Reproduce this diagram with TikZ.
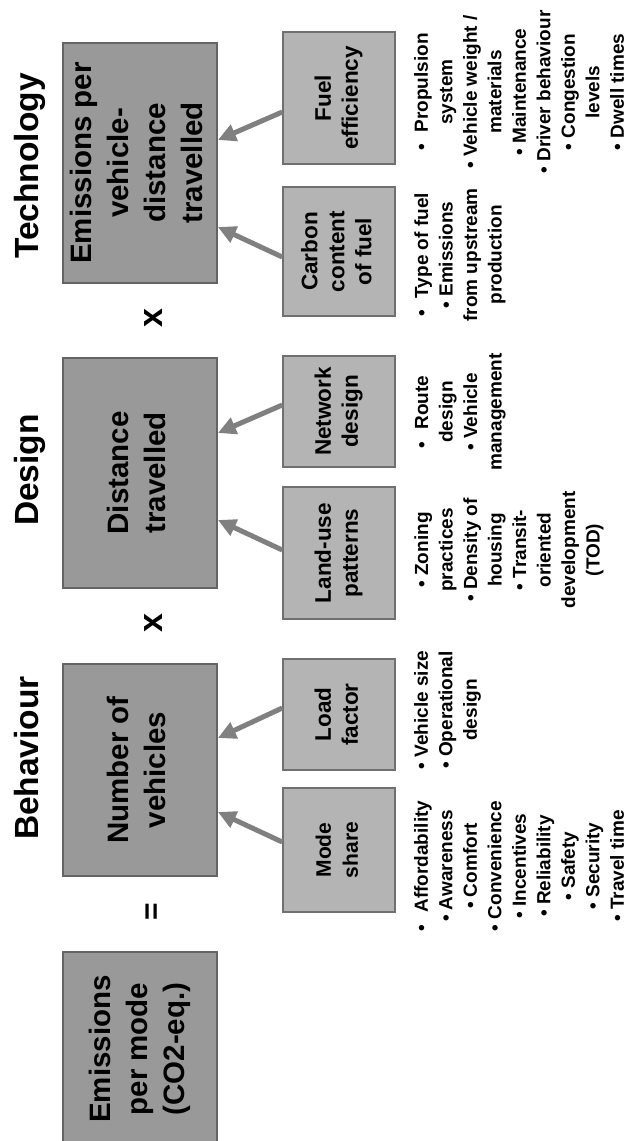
\documentclass[tikz,border=0pt]{standalone}
\usepackage{fontspec}
\usepackage{graphicx}
\setmainfont{Liberation Sans}
\usetikzlibrary{arrows.meta}
\definecolor{bigfill}{RGB}{153,153,153}
\definecolor{bigdraw}{RGB}{100,100,100}
\definecolor{smallfill}{RGB}{180,180,180}
\definecolor{smalldraw}{RGB}{112,112,112}
\definecolor{arrowgray}{RGB}{128,128,128}
\newcommand{\vtext}[1]{\rotatebox{90}{\begin{tabular}{@{}c@{}}#1\end{tabular}}}
\begin{document}
\begin{tikzpicture}[x=1pt,y=-1pt,
  bigbox/.style={draw=bigdraw, line width=1.8pt, fill=bigfill, inner sep=0pt,
    minimum width=154pt, font=\fontsize{29.5}{37}\selectfont\bfseries},
  smallbox/.style={draw=smalldraw, line width=1.5pt, fill=smallfill, inner sep=0pt,
    minimum width=112pt, font=\fontsize{22.5}{27}\selectfont\bfseries},
  heading/.style={rotate=90, anchor=base, inner sep=0pt,
    font=\fontsize{33.5}{40}\selectfont\bfseries},
  opsym/.style={rotate=90, anchor=base, inner sep=0pt,
    font=\fontsize{34}{40}\selectfont\bfseries},
  bullets/.style={inner sep=0pt, font=\fontsize{19}{24.5}\selectfont\bfseries},
  feed/.style={draw=arrowgray, line width=5pt, -{Triangle[length=18pt,width=17pt]}},
]
\fill[white] (0,0) rectangle (627,1141);
\useasboundingbox (0,0) rectangle (627,1141);

% headings
\node[heading] (hTech) at (38,166) {Technology};
\node[heading] (hDesign) at (38,470) {Design};
\node[heading] (hBeh) at (38,758) {Behaviour};

% main boxes
\node[bigbox, minimum height=240pt] (tech) at (140,163)
  {\vtext{Emissions per\\vehicle-\\distance\\travelled}};
\node[bigbox, minimum height=230pt] (dist) at (140,473)
  {\vtext{Distance\\travelled}};
\node[bigbox, minimum height=212pt] (num) at (140,770)
  {\vtext{Number of\\vehicles}};
\node[bigbox, minimum height=194pt] (emode) at (140,1049)
  {\vtext{Emissions\\per mode\\(CO2-eq.)}};

% operators
\node[opsym] (op1) at (162,318) {x};
\node[opsym] (op2) at (162,623) {x};
\node[opsym, font=\fontsize{30}{36}\selectfont\bfseries] (op3) at (161,912) {=};

% factor boxes
\node[smallbox, minimum height=132pt] (fuel) at (339,98) {\vtext{Fuel\\efficiency}};
\node[smallbox, minimum height=129pt] (carbon) at (339,251.5) {\vtext{Carbon\\content\\of fuel}};
\node[smallbox, minimum height=111pt] (network) at (339,411.5) {\vtext{Network\\design}};
\node[smallbox, minimum height=132pt] (land) at (339,553) {\vtext{Land-use\\patterns}};
\node[smallbox, minimum height=111pt] (load) at (339,714.5) {\vtext{Load\\factor}};
\node[smallbox, minimum height=124pt, font=\fontsize{21}{27}\selectfont\bfseries] (mode) at (339,850) {\vtext{Mode\\share}};

% arrows
\draw[feed] ([yshift=-14pt]fuel.west) -- ([yshift=23pt]tech.east);
\draw[feed] ([yshift=-5.5pt]carbon.west) -- ([yshift=-64pt]tech.east);
\draw[feed] ([yshift=6.5pt]network.west) -- ([yshift=40pt]dist.east);
\draw[feed] ([yshift=3pt]land.west) -- ([yshift=-47pt]dist.east);
\draw[feed] ([yshift=6.5pt]load.west) -- ([yshift=32pt]num.east);
\draw[feed] ([yshift=8pt]mode.west) -- ([yshift=-42pt]num.east);

% bullet lists
\node[bullets] (bFuel) at (521,92) {\vtext{\textbullet\hspace{12pt}Propulsion\\system\\\textbullet\ Vehicle weight /\\materials\\\textbullet\ Maintenance\\\textbullet\ Driver behaviour\\\textbullet\ Congestion\\levels\\\textbullet\ Dwell times}};
\node[bullets] (bCarbon) at (460,255) {\vtext{\textbullet\hspace{12pt}Type of fuel\\\textbullet\ Emissions\\from upstream\\production}};
\node[bullets] (bNet) at (460,412) {\vtext{\textbullet\hspace{12pt}Route\\design\\\textbullet\ Vehicle\\management}};
\node[bullets] (bLand) at (509,550) {\vtext{\textbullet\ Zoning\\practices\\\textbullet\ Density of\\housing\\\textbullet\ Transit-\\oriented\\development\\(TOD)}};
\node[bullets] (bLoad) at (447.5,710) {\vtext{\textbullet\ Vehicle size\\\textbullet\ Operational\\design}};
\node[bullets] (bMode) at (521,866) {\vtext{\textbullet\hspace{12pt}Affordability\\\textbullet\ Awareness\\\textbullet\ Comfort\\\textbullet\ Convenience\\\textbullet\ Incentives\\\textbullet\ Reliability\\\textbullet\ Safety\\\textbullet\ Security\\\textbullet\ Travel time}};
\end{tikzpicture}
\end{document}
